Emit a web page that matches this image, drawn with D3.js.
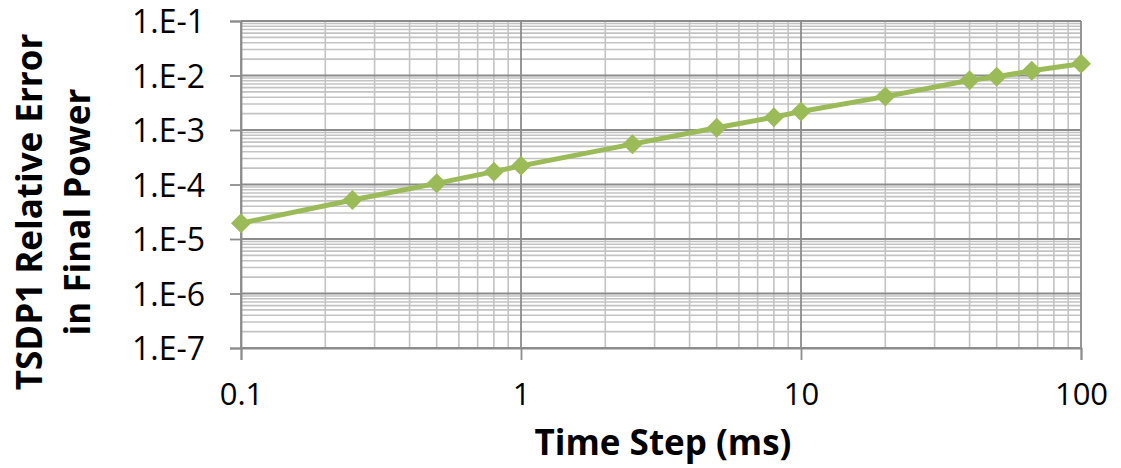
<!DOCTYPE html>
<html>
<head>
<meta charset="utf-8">
<script src="https://cdn.jsdelivr.net/npm/d3@7"></script>
<style>
  html, body { margin: 0; padding: 0; background: #fff; }
  svg { display: block; }
  text { font-family: "Open Sans", "Noto Sans", sans-serif; fill: #000; }
</style>
</head>
<body>
<svg id="chart" width="1121" height="468"></svg>
<script>
// Time step (ms) and TSDP1 relative error in final power
const timeStep = [0.1, 0.25, 0.5, 0.8, 1, 2.5, 5, 8, 10, 20, 40, 50, 66.7, 100];
const relError = [1.95e-5, 5.2e-5, 1.05e-4, 1.72e-4, 2.2e-4, 5.5e-4, 1.1e-3, 1.72e-3, 2.18e-3, 4.1e-3, 8.2e-3, 9.5e-3, 1.22e-2, 1.64e-2];

const xTickValues = [0.1, 1, 10, 100];
const xTickLabels = ["0.1", "1", "10", "100"];
const yTickValues = [1e-1, 1e-2, 1e-3, 1e-4, 1e-5, 1e-6, 1e-7];
const yTickLabels = ["1.E-1", "1.E-2", "1.E-3", "1.E-4", "1.E-5", "1.E-6", "1.E-7"];

const yTitleLines = ["TSDP1 Relative Error", "in Final Power"];
const xTitle = "Time Step (ms)";

const svg = d3.select("#chart");
const plot = { left: 241, right: 1081, top: 21, bottom: 348 };

const x = d3.scaleLog().domain([0.1, 100]).range([plot.left, plot.right]);
const y = d3.scaleLog().domain([1e-7, 1e-1]).range([plot.bottom, plot.top]);

// minor grid values: 2..9 within every decade
const minorX = [];
for (let e = -1; e < 2; e++) for (let k = 2; k <= 9; k++) minorX.push(k * Math.pow(10, e));
const minorY = [];
for (let e = -7; e < -1; e++) for (let k = 2; k <= 9; k++) minorY.push(k * Math.pow(10, e));

const grid = svg.append("g");
grid.selectAll(".vminor").data(minorX).join("line")
  .attr("x1", d => x(d)).attr("x2", d => x(d))
  .attr("y1", plot.top).attr("y2", plot.bottom)
  .attr("stroke", "#c3c3c3").attr("stroke-width", 1.6);
grid.selectAll(".hminor").data(minorY).join("line")
  .attr("x1", plot.left).attr("x2", plot.right)
  .attr("y1", d => y(d)).attr("y2", d => y(d))
  .attr("stroke", "#c3c3c3").attr("stroke-width", 1.6);
grid.selectAll(".vmajor").data(xTickValues).join("line")
  .attr("x1", d => x(d)).attr("x2", d => x(d))
  .attr("y1", plot.top).attr("y2", plot.bottom)
  .attr("stroke", "#8c8c8c").attr("stroke-width", 1.8);
grid.selectAll(".hmajor").data(yTickValues).join("line")
  .attr("x1", plot.left).attr("x2", plot.right)
  .attr("y1", d => y(d)).attr("y2", d => y(d))
  .attr("stroke", "#8c8c8c").attr("stroke-width", 1.8);

// axes
const yAxis = d3.axisLeft(y).tickValues(yTickValues)
  .tickFormat((d, i) => yTickLabels[i]).tickSize(11).tickPadding(25);
const gy = svg.append("g").attr("transform", `translate(${plot.left},0)`).call(yAxis);
gy.select(".domain").attr("stroke", "#8c8c8c").attr("stroke-width", 1.8);
gy.selectAll(".tick line").attr("stroke", "#8c8c8c").attr("stroke-width", 1.8);
gy.selectAll(".tick text").style("font-size", "32px").attr("dy", "0.36em");

const xAxis = d3.axisBottom(x).tickValues(xTickValues)
  .tickFormat((d, i) => xTickLabels[i]).tickSize(12).tickPadding(23);
const gx = svg.append("g").attr("transform", `translate(0,${plot.bottom})`).call(xAxis);
gx.select(".domain").attr("stroke", "#8c8c8c").attr("stroke-width", 1.8);
gx.selectAll(".tick line").attr("stroke", "#8c8c8c").attr("stroke-width", 1.8);
gx.selectAll(".tick text").style("font-size", "31px");

// series line and diamond markers
const pts = timeStep.map((t, i) => [t, relError[i]]);
svg.append("path").datum(pts)
  .attr("fill", "none").attr("stroke", "#9bbb59").attr("stroke-width", 5)
  .attr("stroke-linejoin", "round")
  .attr("d", d3.line().x(d => x(d[0])).y(d => y(d[1])));

const r = 10;
svg.selectAll(".marker").data(pts).join("path")
  .attr("d", d => `M${x(d[0])},${y(d[1]) - r}L${x(d[0]) + r},${y(d[1])}L${x(d[0])},${y(d[1]) + r}L${x(d[0]) - r},${y(d[1])}Z`)
  .attr("fill", "#9bbb59");

// titles
svg.append("text")
  .attr("x", 663).attr("y", 455)
  .attr("text-anchor", "middle")
  .style("font-size", "35px").style("font-weight", "bold")
  .text(xTitle);

const yt = svg.append("text")
  .attr("transform", "translate(0,212) rotate(-90)")
  .attr("text-anchor", "middle")
  .style("font-size", "35px").style("font-weight", "bold");
yt.append("tspan").attr("x", 0).attr("y", 42).text(yTitleLines[0]);
yt.append("tspan").attr("x", 0).attr("y", 90).text(yTitleLines[1]);
</script>
</body>
</html>
